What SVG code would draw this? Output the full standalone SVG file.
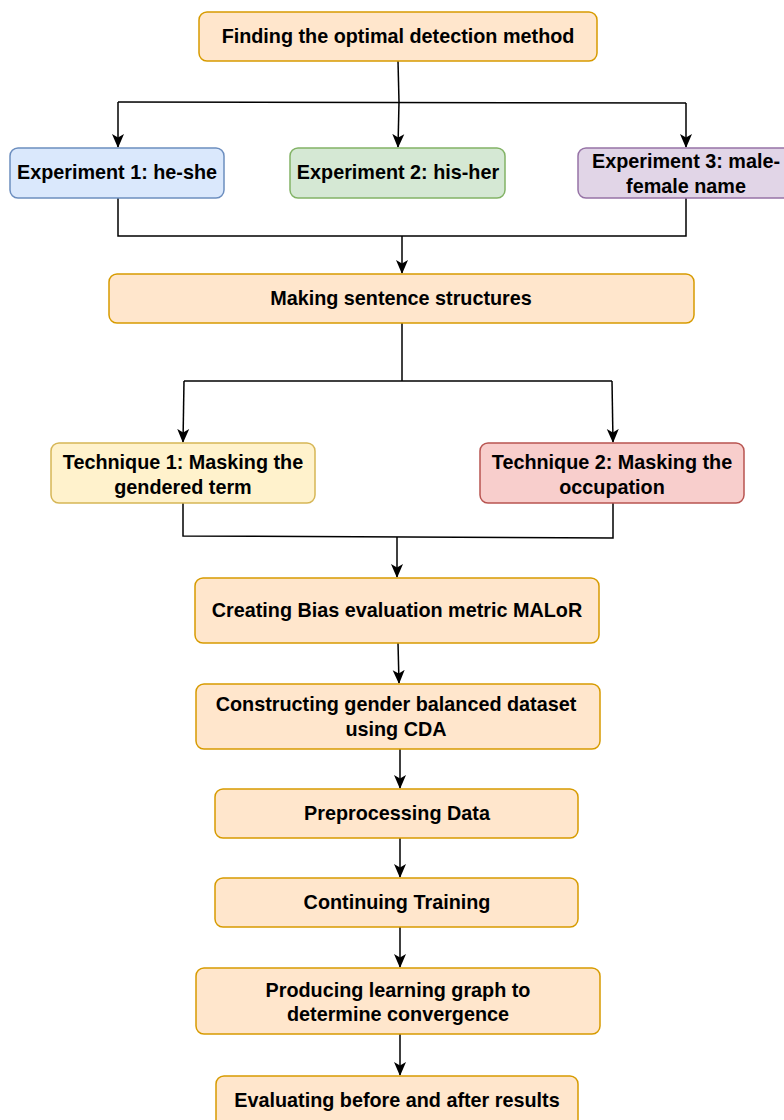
<svg xmlns="http://www.w3.org/2000/svg" width="784" height="1120" viewBox="0 0 784 1120">
<style>
.n{stroke-width:1.5}
.o{fill:#ffe6cc;stroke:#d79b00}
.t{font-family:"Liberation Sans",Arial,sans-serif;font-weight:bold;font-size:19.8px;fill:#000;text-anchor:middle}
.m{font-size:19.8px}
.c{fill:none;stroke:#000;stroke-width:1.5}
</style>
<defs>
<marker id="a" markerWidth="14" markerHeight="14" viewBox="0 0 14 14" refX="13" refY="7" orient="auto" markerUnits="userSpaceOnUse">
<path d="M0,1 L14,7 L0,13 L3.5,7 Z" fill="#000"/>
</marker>
</defs>
<rect width="784" height="1120" fill="#fff"/>
<g id="connectors">
<path class="c" d="M398,61 L399,102"/>
<path class="c" d="M118,102 L686,103"/>
<path class="c" d="M118,102 L118,147" marker-end="url(#a)"/>
<path class="c" d="M399,102 L398,147" marker-end="url(#a)"/>
<path class="c" d="M686,103 L686,147" marker-end="url(#a)"/>
<path class="c" d="M118,198 L118,236 L686,236 L686,198"/>
<path class="c" d="M402,236 L402,273" marker-end="url(#a)"/>
<path class="c" d="M402,323 L402,381"/>
<path class="c" d="M184,381 L612,381"/>
<path class="c" d="M184,381 L183,442" marker-end="url(#a)"/>
<path class="c" d="M612,381 L613,442" marker-end="url(#a)"/>
<path class="c" d="M183,503 L183,536 L613,538 L613,503"/>
<path class="c" d="M397,537 L397,577" marker-end="url(#a)"/>
<path class="c" d="M398,643 L399,683" marker-end="url(#a)"/>
<path class="c" d="M400,749 L400,788" marker-end="url(#a)"/>
<path class="c" d="M400,838 L400,877" marker-end="url(#a)"/>
<path class="c" d="M400,927 L400,967" marker-end="url(#a)"/>
<path class="c" d="M400,1034 L400,1075" marker-end="url(#a)"/>
</g>
<g id="n1"><rect class="n o" x="199" y="12" width="398" height="49" rx="8"/><text class="t" x="398" y="43">Finding the optimal detection method</text></g>
<g id="e1"><rect class="n" x="10" y="148" width="214" height="50" rx="8" fill="#dae8fc" stroke="#6c8ebf"/><text class="t m" x="117" y="179">Experiment 1: he-she</text></g>
<g id="e2"><rect class="n" x="290" y="148" width="215" height="50" rx="8" fill="#d5e8d4" stroke="#82b366"/><text class="t m" x="398" y="179">Experiment 2: his-her</text></g>
<g id="e3"><rect class="n" x="578" y="148" width="220" height="50" rx="8" fill="#e1d5e7" stroke="#9673a6"/><text class="t m" x="686" y="168">Experiment 3: male-</text><text class="t m" x="686" y="193">female name</text></g>
<g id="n2"><rect class="n o" x="109" y="274" width="585" height="49" rx="8"/><text class="t" x="401" y="305">Making sentence structures</text></g>
<g id="t1"><rect class="n" x="51" y="443" width="264" height="60" rx="8" fill="#fff2cc" stroke="#d6b656"/><text class="t m" x="183" y="469">Technique 1: Masking the</text><text class="t m" x="183" y="494">gendered term</text></g>
<g id="t2"><rect class="n" x="480" y="443" width="264" height="60" rx="8" fill="#f8cecc" stroke="#b85450"/><text class="t m" x="612" y="469">Technique 2: Masking the</text><text class="t m" x="612" y="494">occupation</text></g>
<g id="n3"><rect class="n o" x="195" y="578" width="404" height="65" rx="8"/><text class="t" x="397" y="617">Creating Bias evaluation metric MALoR</text></g>
<g id="n4"><rect class="n o" x="196" y="684" width="404" height="65" rx="8"/><text class="t" x="396" y="711">Constructing gender balanced dataset</text><text class="t" x="396" y="736">using CDA</text></g>
<g id="n5"><rect class="n o" x="215" y="789" width="363" height="49" rx="8"/><text class="t" x="397" y="820">Preprocessing Data</text></g>
<g id="n6"><rect class="n o" x="215" y="878" width="363" height="49" rx="8"/><text class="t" x="397" y="909">Continuing Training</text></g>
<g id="n7"><rect class="n o" x="196" y="968" width="404" height="66" rx="8"/><text class="t" x="398" y="997">Producing learning graph to</text><text class="t" x="398" y="1021">determine convergence</text></g>
<g id="n8"><rect class="n o" x="216" y="1076" width="362" height="60" rx="8"/><text class="t" x="397" y="1107">Evaluating before and after results</text></g>
</svg>
